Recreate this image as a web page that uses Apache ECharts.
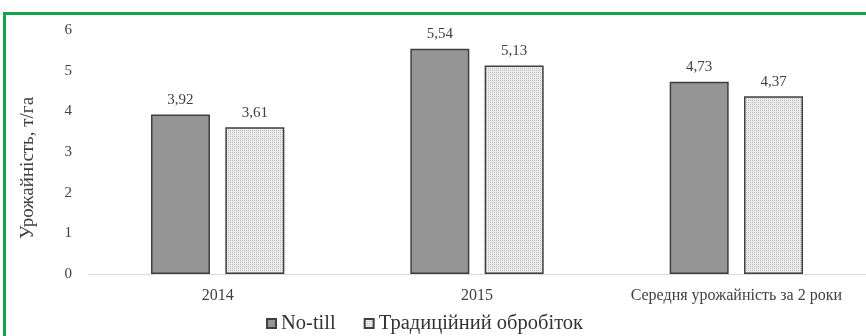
<!DOCTYPE html>
<html>
<head>
<meta charset="utf-8">
<script src="https://cdn.jsdelivr.net/npm/echarts@6/dist/echarts.min.js"></script>
<style>
  body { margin: 0; background: #fff; }
  #wrap { position: relative; width: 866px; height: 336px; }
  #frame { position: absolute; left: 3px; top: 12px; right: 0; bottom: 0;
    border-top: 3px solid #14a54c; border-left: 3px solid #14a54c; pointer-events: none; }
  #chart { width: 866px; height: 336px; }
</style>
</head>
<body>
<div id="wrap">
  <div id="chart"></div>
  <div id="frame"></div>
</div>
<script>
  const categories = ['2014', '2015', 'Середня урожайність за 2 роки']
  const noTill = [3.92, 5.54, 4.73]
  const traditional = [3.61, 5.13, 4.37]
  const seriesNames = ['No-till', 'Традиційний обробіток']

  // dotted fill for the second series
  const pat = document.createElement('canvas')
  pat.width = 4
  pat.height = 4
  const pctx = pat.getContext('2d')
  pctx.fillStyle = '#ececec'
  pctx.fillRect(0, 0, 4, 4)
  pctx.fillStyle = '#bdbdbd'
  pctx.fillRect(0, 0, 1, 1)
  pctx.fillRect(2, 2, 1, 1)
  pctx.fillRect(2, 0, 1, 1)
  pctx.fillRect(0, 2, 1, 1)

  const serif = '"Liberation Serif", "DejaVu Serif", serif'
  const myChart = echarts.init(document.getElementById('chart'))

  const labelCfg = {
    show: true,
    position: 'top',
    distance: 7,
    color: '#404040',
    fontFamily: serif,
    fontSize: 15,
    formatter: p => p.value.toFixed(2).replace('.', ',')
  }

  let option = {
    backgroundColor: '#fff',
    animation: false,
    grid: { left: 88, right: -2, top: 30, bottom: 62 },
    legend: {
      bottom: -3,
      left: 261,
      icon: 'rect',
      itemWidth: 9,
      itemHeight: 9,
      itemGap: 28,
      textStyle: { fontFamily: serif, fontSize: 20.5, color: '#333' },
      data: seriesNames
    },
    xAxis: {
      type: 'category',
      data: categories,
      axisLine: { lineStyle: { color: '#d9d9d9', width: 1 } },
      axisTick: { show: false },
      axisLabel: { interval: 0, color: '#404040', fontFamily: serif, fontSize: 16, margin: 14 }
    },
    yAxis: {
      type: 'value',
      min: 0,
      max: 6,
      interval: 1,
      name: 'Урожайність, т/га',
      nameLocation: 'middle',
      nameGap: 50,
      nameTextStyle: { fontFamily: serif, fontSize: 19, color: '#404040', padding: [0, 32, 0, 0] },
      splitLine: { show: false },
      axisLine: { show: false },
      axisTick: { show: false },
      axisLabel: { color: '#404040', fontFamily: serif, fontSize: 15, margin: 16 }
    },
    series: [
      {
        name: seriesNames[0],
        type: 'bar',
        barWidth: 59,
        barGap: '26%',
        data: noTill,
        itemStyle: { color: '#959595', borderColor: '#3f3f3f', borderWidth: 1.5 },
        label: labelCfg
      },
      {
        name: seriesNames[1],
        type: 'bar',
        barWidth: 59,
        data: traditional,
        itemStyle: {
          color: { image: pat, repeat: 'repeat' },
          borderColor: '#3f3f3f',
          borderWidth: 1.5
        },
        label: labelCfg
      }
    ]
  }

  option && myChart.setOption(option)
</script>
</body>
</html>
